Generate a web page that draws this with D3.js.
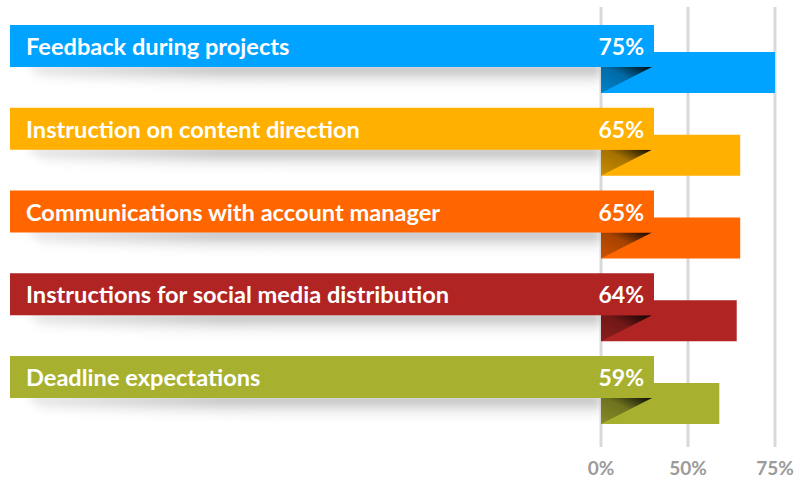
<!DOCTYPE html>
<html>
<head>
<meta charset="utf-8">
<script src="https://cdn.jsdelivr.net/npm/d3@7"></script>
<style>
  html, body { margin: 0; padding: 0; background: #fff; }
  svg { display: block; font-family: "Lato", "Open Sans", sans-serif; }
</style>
</head>
<body>
<div id="chart"></div>
<script>
// data
const categories = [
    "Feedback during projects",
    "Instruction on content direction",
    "Communications with account manager",
    "Instructions for social media distribution",
    "Deadline expectations"
];
const values = [75, 65, 65, 64, 59];
const colors = ["#00a3ff", "#ffb000", "#ff6600", "#b02424", "#a8b02f"];
const tickValues = [0, 50, 75];
const tickLabels = ["0%", "50%", "75%"];

const W = 807, H = 480;
const ribbonH = 42, barOffset = 27, barH = 41, foldW = 53;

const svg = d3.select("#chart").append("svg")
    .attr("width", W)
    .attr("height", H);

const defs = svg.append("defs");

// x scale: the gridlines are not evenly spaced in the original
const x = d3.scaleLinear()
    .domain(tickValues)
    .range([601, 688, 775]);

const y = d3.scaleBand()
    .domain(categories)
    .range([25, 25 + 82.75 * categories.length])
    .paddingInner(0);

// blur for the ribbon shadow
defs.append("filter")
    .attr("id", "blur")
    .attr("x", "-10%").attr("y", "-50%")
    .attr("width", "120%").attr("height", "200%")
    .append("feGaussianBlur")
    .attr("stdDeviation", 4);

const shadowGrad = defs.append("linearGradient")
    .attr("id", "shadowGrad")
    .attr("x1", 0).attr("y1", 0).attr("x2", 0).attr("y2", 1);
shadowGrad.append("stop").attr("offset", "0%").attr("stop-color", "#a4a4a4");
shadowGrad.append("stop").attr("offset", "100%").attr("stop-color", "#ffffff").attr("stop-opacity", 0);

const shadowGradH = defs.append("linearGradient")
    .attr("id", "shadowGradH")
    .attr("x1", 0).attr("y1", 0).attr("x2", 1).attr("y2", 0);
shadowGradH.append("stop").attr("offset", "0%").attr("stop-color", "#fff").attr("stop-opacity", 0.7);
shadowGradH.append("stop").attr("offset", "100%").attr("stop-color", "#fff").attr("stop-opacity", 0);

// fold shading, dark at the top right corner
const foldGrad = defs.append("linearGradient")
    .attr("id", "foldGrad")
    .attr("x1", 0).attr("y1", 1).attr("x2", 1).attr("y2", 0);
foldGrad.append("stop").attr("offset", "0%").attr("stop-color", "#000").attr("stop-opacity", 0.2);
foldGrad.append("stop").attr("offset", "55%").attr("stop-color", "#000").attr("stop-opacity", 0.35);
foldGrad.append("stop").attr("offset", "100%").attr("stop-color", "#000").attr("stop-opacity", 0.95);

// gridlines
svg.append("g")
    .selectAll("line")
    .data(tickValues)
    .join("line")
    .attr("x1", d => x(d)).attr("x2", d => x(d))
    .attr("y1", 7).attr("y2", 447)
    .attr("stroke", "#d9d9d9")
    .attr("stroke-width", 3);

// tick labels
svg.append("g")
    .selectAll("text")
    .data(tickValues)
    .join("text")
    .attr("x", d => x(d))
    .attr("y", 475)
    .attr("text-anchor", "middle")
    .attr("fill", "#9b9b9b")
    .attr("font-size", 19)
    .attr("font-weight", 700)
    .text((d, i) => tickLabels[i]);

const rows = svg.append("g")
    .selectAll("g")
    .data(categories)
    .join("g")
    .attr("transform", d => `translate(0, ${y(d)})`);

// shadow under the ribbon
rows.append("path")
    .attr("d", `M26,${ribbonH - 2} L${x(0)},${ribbonH - 2} L${x(0)},${ribbonH + 24} L300,${ribbonH + 24} L44,${ribbonH + 12} Z`)
    .attr("fill", "url(#shadowGrad)")
    .attr("filter", "url(#blur)");

rows.append("rect")
    .attr("x", 0).attr("y", ribbonH - 2)
    .attr("width", 220).attr("height", 40)
    .attr("fill", "url(#shadowGradH)");

// bars
rows.append("rect")
    .attr("x", x(0))
    .attr("y", barOffset)
    .attr("width", (d, i) => x(values[i]) - x(0))
    .attr("height", barH)
    .attr("fill", (d, i) => colors[i]);

// fold triangle
const fold = `M${x(0)},${ribbonH} L${x(0) + foldW - 2},${ribbonH} L${x(0)},${barOffset + barH} Z`;
rows.append("path")
    .attr("d", fold)
    .attr("fill", (d, i) => colors[i]);
rows.append("path")
    .attr("d", fold)
    .attr("fill", "url(#foldGrad)");

// ribbon
rows.append("rect")
    .attr("x", 10)
    .attr("y", 0)
    .attr("width", x(0) + foldW - 10)
    .attr("height", ribbonH)
    .attr("fill", (d, i) => colors[i]);

rows.append("text")
    .attr("x", 26)
    .attr("y", 30)
    .attr("fill", "#fff")
    .attr("font-size", 23.6)
    .attr("font-weight", 700)
    .text(d => d);

rows.append("text")
    .attr("x", x(0) + 43)
    .attr("y", 30)
    .attr("text-anchor", "end")
    .attr("fill", "#fff")
    .attr("font-size", 23)
    .attr("font-weight", 700)
    .text((d, i) => values[i] + "%");
</script>
</body>
</html>
